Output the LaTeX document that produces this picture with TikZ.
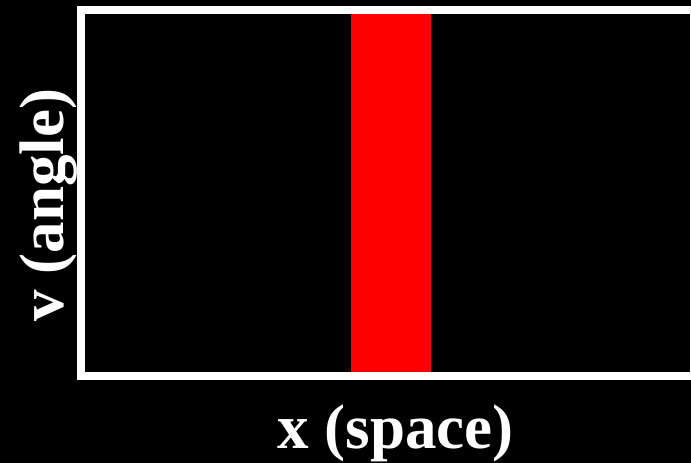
\documentclass[tikz,border=0pt]{standalone}
\usepackage{fontspec}
\setmainfont{Liberation Serif}
\usepackage{tikz}

\begin{document}
\begin{tikzpicture}[x=1pt,y=1pt]
	\tikzset{axislabel/.style={white, font=\fontsize{63}{70}\selectfont\bfseries, inner sep=0pt}}
	\fill[black] (0,0) rectangle (691,463);
	\useasboundingbox (0,0) rectangle (691,463);
	% red band
	\fill[red] (351,91) rectangle (431,449);
	% frame
	\draw[white, line width=8pt] (80.5,452.5) rectangle (694,87);
	\node[axislabel, anchor=base] (xlab) at (395.5,14) {x (space)};
	\node[axislabel, anchor=base, rotate=90] (vlab) at (64,258) {v (angle)};
\end{tikzpicture}
\end{document}
